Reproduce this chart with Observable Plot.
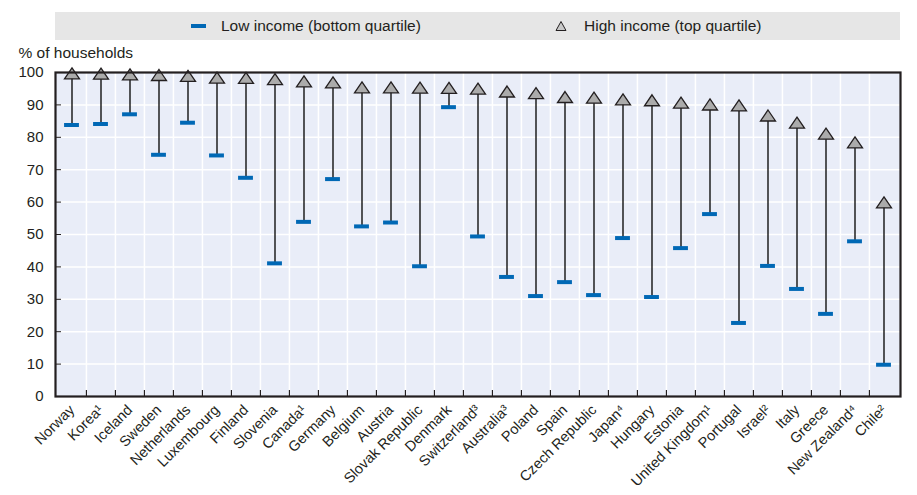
<!DOCTYPE html>
<html><head><meta charset="utf-8">
<script src="https://cdn.jsdelivr.net/npm/d3@7"></script>
<script src="https://cdn.jsdelivr.net/npm/@observablehq/plot@0.6"></script>
<style>
body{margin:0;background:#fff;font-family:"Liberation Sans",Arial,sans-serif;color:#231f20;}
#legend{position:relative;height:45px;width:917px;}
#legend .box{position:absolute;left:55px;top:12px;width:845px;height:28px;background:#e6e6e6;}
#legend .item{position:absolute;top:0;height:28px;display:flex;align-items:center;font-size:15.5px;white-space:nowrap;}
#chart svg{display:block;}
</style></head><body>
<div id="legend"><div class="box">
  <div class="item" style="left:136px"><svg width="15" height="6"><rect x="0" y="1" width="15" height="4" fill="#0068b5"></rect></svg><span style="margin-left:15px">Low income (bottom quartile)</span></div>
  <div class="item" style="left:500px"><svg width="12" height="12"><path d="M6,1.5L11,10.5L1,10.5Z" fill="#c8c8c8" stroke="#231f20" stroke-width="1"></path></svg><span style="margin-left:17px">High income (top quartile)</span></div>
</div></div>
<div id="chart"></div>
<script>
const countries = ["Norway","Korea¹","Iceland","Sweden","Netherlands","Luxembourg","Finland","Slovenia","Canada¹","Germany","Belgium","Austria","Slovak Republic","Denmark","Switzerland³","Australia³","Poland","Spain","Czech Republic","Japan⁴","Hungary","Estonia","United Kingdom¹","Portugal","Israel²","Italy","Greece","New Zealand⁴","Chile²"];
const lowIncome = [83.8,84.1,87.1,74.6,84.5,74.4,67.5,41.1,53.9,67.1,52.5,53.7,40.2,89.3,49.4,36.9,31.0,35.3,31.3,48.9,30.7,45.8,56.3,22.7,40.3,33.2,25.5,47.9,9.8];
const highIncome = [99.7,99.6,99.4,99.2,98.9,98.4,98.3,97.9,97.2,96.9,95.4,95.4,95.3,95.2,95.0,94.1,93.6,92.4,92.2,91.7,91.4,90.7,90.1,89.8,86.7,84.5,81.1,78.4,59.9];
const yTicks = [0,10,20,30,40,50,60,70,80,90,100];

const data = countries.map((c, i) => ({country: c, low: lowIncome[i], high: highIncome[i]}));

const W = 917, H = 450, mL = 55, mR = 17, mT = 27, mB = 99;
const bw = (W - mL - mR) / countries.length;
const innerH = H - mT - mB;
const tickLen = 6 / innerH * 100;
const dark = "#231f20";

const flatTriangle = {
  draw(ctx) {
    ctx.moveTo(0, -5.6);
    ctx.lineTo(7.5, 5.4);
    ctx.lineTo(-7.5, 5.4);
    ctx.closePath();
  }
};

const chart = Plot.plot({
  width: W, height: H,
  marginLeft: mL, marginRight: mR, marginTop: mT, marginBottom: mB,
  style: {fontFamily: "'Liberation Sans',Arial,sans-serif", fontSize: "14px", color: dark, background: "#fff"},
  x: {type: "band", domain: countries, padding: 0},
  y: {domain: [0, 100]},
  marks: [
    Plot.frame({fill: "#e9edf8"}),
    Plot.ruleY(yTicks.slice(1, -1), {stroke: "#fff", strokeWidth: 1.5}),
    Plot.ruleX(countries.slice(1), {x: d => d, stroke: "#fff", strokeWidth: 1.5, dx: -bw / 2}),
    Plot.ruleX(countries.slice(1), {x: d => d, y1: 0, y2: tickLen, stroke: dark, strokeWidth: 1.2, dx: -bw / 2}),
    Plot.axisY({ticks: yTicks, tickSize: -6, tickPadding: 18, stroke: dark, fontSize: 15, label: null}),
    Plot.axisX({tickSize: 0, tickRotate: -45, tickPadding: 11, label: null, fontSize: 14.5}),
    Plot.ruleX(data, {x: "country", y1: "low", y2: "high", stroke: "#111", strokeWidth: 1.4}),
    Plot.tickY(data, {x: "country", y: "low", stroke: "#0068b5", strokeWidth: 4, insetLeft: (bw - 15) / 2, insetRight: (bw - 15) / 2}),
    Plot.dot(data, {x: "country", y: "high", symbol: flatTriangle, fill: "#ababab", stroke: dark, strokeWidth: 1.3}),
    Plot.frame({stroke: dark, strokeWidth: 2.2}),
    Plot.text(["% of households"], {frameAnchor: "top-left", dx: -37, dy: -19, lineAnchor: "middle", textAnchor: "start", fontSize: 15.5, fill: dark})
  ]
});
document.getElementById("chart").appendChild(chart);
</script>
</body></html>
